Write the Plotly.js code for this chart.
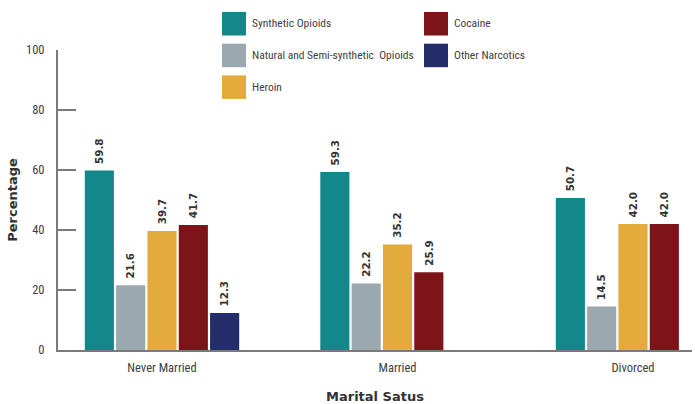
<!DOCTYPE html>
<html>
<head>
<meta charset="utf-8">
<script src="https://cdn.plot.ly/plotly-3.0.1.min.js"></script>
<style>html,body{margin:0;padding:0;background:#fff;}#chart{width:695px;height:404px;}</style>
</head>
<body>
<div id="chart"></div>
<script>
const categories = ["Never Married", "Married", "Divorced"];
const seriesNames = ["Synthetic Opioids", "Natural and Semi-synthetic  Opioids", "Heroin", "Cocaine", "Other Narcotics"];
const syntheticOpioids = [59.8, 59.3, 50.7];
const naturalSemiSynthetic = [21.6, 22.2, 14.5];
const heroin = [39.7, 35.2, 42.0];
const cocaine = [41.7, 25.9, 42.0];
const otherNarcotics = [12.3, null, null];
const colors = ["#13888A", "#9BA8B0", "#E3AA3C", "#7D141A", "#222D6A"];
const yTicks = [0, 20, 40, 60, 80, 100];

const seriesValues = [syntheticOpioids, naturalSemiSynthetic, heroin, cocaine, otherNarcotics];
const narrowFont = (size) => ({family: '"Roboto Condensed", "DejaVu Sans Condensed", sans-serif', size: size, color: '#404040', weight: 400});

const traces = seriesValues.map((vals, i) => ({
  type: 'bar',
  name: seriesNames[i],
  x: categories,
  y: vals,
  marker: {color: colors[i]},
  text: vals.map(v => v == null ? '' : '\u00A0' + v.toFixed(1)),
  textposition: 'outside',
  textangle: -90,
  cliponaxis: false,
  textfont: {family: '"DejaVu Sans", sans-serif', size: 14, color: '#333', weight: 'bold'},
  showlegend: false,
  hoverinfo: 'x+y+name'
}));

// plot area geometry helpers (pixels -> paper) for the custom legend
const L = 58, R = 692, T = 50, B = 350;
const px = p => (p - L) / (R - L);
const py = p => (B - p) / (B - T);

const shapes = [];
const annotations = [];
const legendCols = [[0, 1, 2], [3, 4]];
const colX = [222, 424];
legendCols.forEach((col, c) => {
  col.forEach((idx, r) => {
    const top = 12 + r * 31.7;
    shapes.push({type: 'rect', xref: 'paper', yref: 'paper',
      x0: px(colX[c]), x1: px(colX[c] + 24), y0: py(top + 23.5), y1: py(top),
      fillcolor: colors[idx], line: {width: 0}});
    annotations.push({xref: 'paper', yref: 'paper', x: px(colX[c] + 28), y: py(top + 11.5),
      xanchor: 'left', yanchor: 'middle', showarrow: false, text: seriesNames[idx],
      font: narrowFont(11.5)});
  });
});

const layout = {
  width: 695, height: 404,
  margin: {l: L, r: 695 - R, t: T, b: 404 - B},
  paper_bgcolor: '#fff', plot_bgcolor: '#fff',
  barmode: 'group',
  bargap: 0.335,
  bargroupgap: 0.07,
  showlegend: false,
  xaxis: {
    type: 'category',
    range: [-0.4416, 2.2505],
    showline: true, linecolor: '#7a7a7a', linewidth: 2,
    ticks: '', showgrid: false, zeroline: false,
    ticklabelstandoff: 5,
    tickfont: narrowFont(12.5),
    title: {text: 'Marital Satus', standoff: 18,
      font: {family: '"DejaVu Sans", sans-serif', size: 13, color: '#333', weight: 'bold'}}
  },
  yaxis: {
    range: [0, 100],
    tickvals: yTicks,
    showline: true, linecolor: '#7a7a7a', linewidth: 2,
    ticks: 'inside', ticklen: 18, tickwidth: 2, tickcolor: '#7a7a7a',
    showgrid: false, zeroline: false,
    ticklabelstandoff: 9,
    tickfont: narrowFont(12.5),
    title: {text: 'Percentage', standoff: 5,
      font: {family: '"DejaVu Sans", sans-serif', size: 13, color: '#333', weight: 'bold'}}
  },
  shapes: shapes,
  annotations: annotations
};

Plotly.newPlot('chart', traces, layout, {displayModeBar: false, staticPlot: true});
</script>
</body>
</html>
